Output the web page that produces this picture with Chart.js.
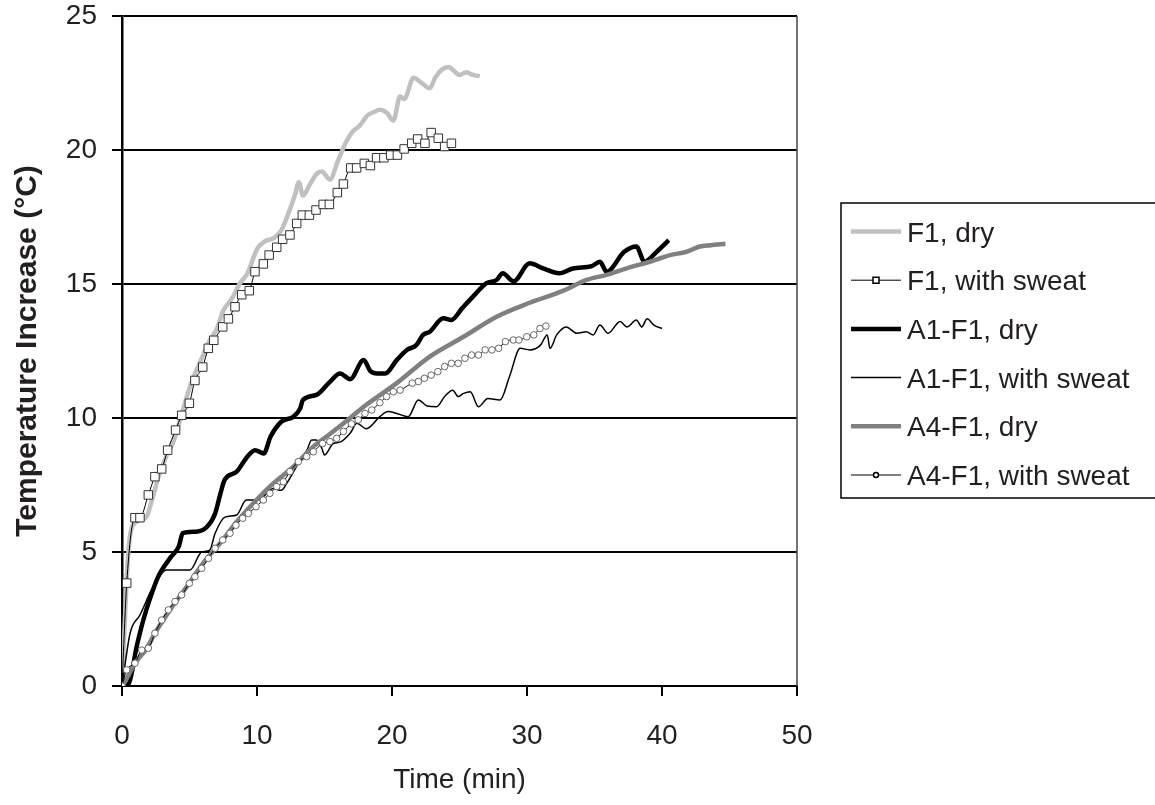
<!DOCTYPE html>
<html>
<head>
<meta charset="utf-8">
<script src="https://cdn.jsdelivr.net/npm/chart.js@4.4.1/dist/chart.umd.min.js"></script>
<style>
  html, body { margin: 0; padding: 0; background: #fff; }
  #wrap { width: 1155px; height: 805px; }
</style>
</head>
<body>
<div id="wrap"><canvas id="chart" width="1155" height="805"></canvas></div>
<script>
// Time (min) / temperature increase (°C)
const f1DryTime = [0, 0.5, 1.0, 1.8, 2.2, 2.7, 3.3, 3.8, 4.4, 4.8, 5.2, 5.8, 6.5, 7.0, 7.5, 8.2, 8.7, 9.3, 10.0, 10.6, 11.2, 11.8, 12.3, 12.8, 13.1, 13.4, 13.9, 14.4, 14.8, 15.4, 16.0, 16.6, 17.1, 17.6, 18.2, 18.6, 19.1, 19.6, 20.1, 20.6, 20.9, 21.6, 22.2, 22.8, 23.2, 23.7, 24.2, 24.6, 25.0, 25.5, 26.0, 26.5];
const f1DryTemp = [0, 5.2, 6.1, 6.3, 6.9, 7.8, 8.6, 9.1, 10.1, 10.8, 11.4, 12.1, 12.9, 13.3, 14.0, 14.5, 15.0, 15.4, 16.3, 16.6, 16.7, 17.0, 17.6, 18.3, 18.8, 18.3, 18.7, 19.1, 19.2, 18.9, 19.6, 20.3, 20.7, 20.9, 21.3, 21.4, 21.5, 21.4, 21.1, 22.0, 21.9, 22.7, 22.5, 22.3, 22.7, 23.0, 23.1, 22.95, 22.8, 22.9, 22.8, 22.75];

const f1SweatTime = [0, 0.35, 0.96, 1.33, 1.95, 2.44, 2.94, 3.38, 3.97, 4.42, 4.99, 5.4, 5.98, 6.39, 6.8, 7.46, 7.88, 8.37, 8.87, 9.43, 9.85, 10.47, 10.9, 11.46, 11.9, 12.44, 12.94, 13.36, 13.88, 14.37, 14.9, 15.36, 15.95, 16.4, 16.94, 17.38, 17.95, 18.4, 18.86, 19.4, 19.9, 20.4, 20.9, 21.46, 21.9, 22.44, 22.9, 23.43, 23.9, 24.4];
const f1SweatTemp = [0, 3.84, 6.28, 6.28, 7.13, 7.81, 8.1, 8.8, 9.55, 10.1, 10.55, 11.4, 11.9, 12.6, 12.9, 13.4, 13.7, 14.15, 14.6, 14.75, 15.46, 15.75, 16.08, 16.37, 16.67, 16.83, 17.26, 17.57, 17.57, 17.76, 17.97, 17.97, 18.41, 18.73, 19.33, 19.33, 19.5, 19.42, 19.71, 19.71, 19.81, 19.81, 20.04, 20.25, 20.41, 20.25, 20.65, 20.44, 20.13, 20.25];

const a1DryTime = [0, 0.5, 1.1, 1.6, 2.1, 2.7, 3.6, 4.2, 4.5, 5.5, 6.3, 6.9, 7.3, 7.6, 8.5, 9.2, 9.85, 10.5, 11.0, 11.8, 12.7, 13.2, 13.4, 14.4, 15.4, 16.15, 16.9, 17.9, 18.4, 18.9, 19.5, 20.35, 21.1, 21.8, 22.3, 22.8, 23.8, 24.4, 25.2, 26.0, 27.0, 27.75, 28.2, 29.0, 30.2, 31.2, 32.4, 33.4, 34.8, 35.4, 35.9, 37.2, 38.1, 38.7, 39.6, 40.5];
const a1DryTemp = [0, 0.1, 1.5, 2.5, 3.3, 4.1, 4.8, 5.2, 5.7, 5.76, 5.94, 6.44, 7.2, 7.69, 8.0, 8.5, 8.8, 8.68, 9.3, 9.86, 10.05, 10.36, 10.67, 10.86, 11.35, 11.66, 11.45, 12.16, 11.75, 11.66, 11.66, 12.16, 12.54, 12.72, 13.1, 13.22, 13.72, 13.66, 14.1, 14.53, 15.03, 15.15, 15.4, 15.1, 15.77, 15.58, 15.4, 15.58, 15.67, 15.83, 15.46, 16.2, 16.4, 15.83, 16.2, 16.64];

const a1SweatTime = [0, 0.6, 1.33, 2.3, 3.3, 5.04, 5.9, 6.5, 6.9, 7.63, 8.5, 9.2, 10.1, 11.2, 11.8, 12.2, 12.57, 13.2, 13.7, 14.05, 14.4, 14.8, 15.0, 15.65, 16.15, 16.9, 17.4, 18.1, 19.1, 19.7, 20.35, 21.2, 21.95, 22.6, 23.3, 23.9, 24.5, 24.9, 25.3, 25.8, 26.4, 27.1, 28.0, 28.7, 29.5, 30.2, 31.0, 31.5, 31.7, 32.2, 32.9, 33.7, 34.4, 34.9, 35.4, 36.0, 36.9, 37.4, 38.1, 38.5, 38.9, 39.4, 40.0];
const a1SweatTemp = [0, 1.97, 2.65, 3.7, 4.33, 4.33, 5.0, 5.07, 5.7, 6.3, 6.38, 6.94, 6.94, 7.37, 7.3, 7.56, 7.87, 8.43, 8.8, 9.18, 9.18, 8.87, 8.62, 9.05, 9.1, 9.43, 9.8, 9.6, 10.05, 10.24, 10.17, 10.05, 10.67, 10.45, 10.42, 10.8, 11.04, 10.8, 10.92, 10.98, 10.42, 10.73, 10.67, 11.54, 12.6, 12.54, 12.72, 13.1, 12.6, 13.1, 13.4, 13.16, 13.22, 13.1, 13.47, 13.16, 13.6, 13.4, 13.66, 13.4, 13.7, 13.47, 13.34];

const a4DryTime = [0, 0.15, 0.96, 1.83, 2.44, 3.56, 4.79, 6.0, 7.26, 8.5, 9.73, 11.2, 12.7, 14.17, 15.4, 16.9, 17.9, 20.35, 22.8, 25.3, 27.75, 30.2, 32.7, 34.4, 35.9, 37.6, 39.1, 40.6, 41.8, 42.8, 43.6, 44.7];
const a4DryTemp = [0, 0.1, 0.85, 1.4, 1.97, 2.84, 3.7, 4.58, 5.32, 6.13, 6.82, 7.56, 8.18, 8.93, 9.4, 10.0, 10.42, 11.3, 12.29, 13.03, 13.78, 14.3, 14.75, 15.15, 15.34, 15.62, 15.83, 16.08, 16.2, 16.4, 16.45, 16.5];

const a4SweatTime = [0, 0.35, 0.96, 1.46, 1.95, 2.44, 2.94, 3.43, 3.93, 4.42, 4.99, 5.4, 5.9, 6.4, 6.9, 7.46, 8.0, 8.44, 8.94, 9.36, 9.93, 10.47, 10.96, 11.46, 11.95, 12.44, 13.06, 13.68, 14.17, 14.86, 15.4, 15.9, 16.4, 17.0, 17.5, 18.0, 18.5, 19.1, 19.6, 20.1, 20.6, 21.5, 21.95, 22.4, 22.9, 23.4, 23.9, 24.4, 24.9, 25.4, 25.9, 26.4, 26.9, 27.4, 27.9, 28.4, 29.0, 29.4, 29.98, 30.5, 30.96, 31.4];
const a4SweatTemp = [0, 0.6, 0.85, 1.34, 1.41, 1.97, 2.46, 2.84, 3.15, 3.4, 3.83, 4.08, 4.39, 4.76, 5.14, 5.45, 5.7, 6.0, 6.26, 6.44, 6.69, 6.94, 7.19, 7.44, 7.62, 8.0, 8.37, 8.56, 8.74, 9.05, 9.12, 9.24, 9.5, 9.78, 9.93, 10.17, 10.3, 10.57, 10.8, 10.98, 11.04, 11.3, 11.36, 11.48, 11.6, 11.73, 11.92, 12.04, 12.04, 12.23, 12.35, 12.35, 12.54, 12.54, 12.6, 12.85, 12.91, 12.91, 13.03, 13.1, 13.34, 13.43];

const seriesNames = ["F1, dry", "F1, with sweat", "A1-F1, dry", "A1-F1, with sweat", "A4-F1, dry", "A4-F1, with sweat"];
const xTicks = [0, 10, 20, 30, 40, 50];
const yTicks = [0, 5, 10, 15, 20, 25];

const FONT = "'Liberation Sans', Arial, sans-serif";
const TEXT = "#231f20";

function pts(xs, ys) {
  return xs.map((x, i) => ({ x: x, y: ys[i] }));
}

const styles = [
  { color: "#c0c0c0", width: 4.5 },
  { color: "#000000", width: 1, marker: "rect" },
  { color: "#000000", width: 4.5 },
  { color: "#000000", width: 1.5 },
  { color: "#808080", width: 4.5 },
  { color: "#000000", width: 1, marker: "circle" },
];

const series = [
  pts(f1DryTime, f1DryTemp),
  pts(f1SweatTime, f1SweatTemp),
  pts(a1DryTime, a1DryTemp),
  pts(a1SweatTime, a1SweatTemp),
  pts(a4DryTime, a4DryTemp),
  pts(a4SweatTime, a4SweatTemp),
];

const datasets = series.map((data, i) => {
  const s = styles[i];
  return {
    label: seriesNames[i],
    data: data,
    borderColor: s.color,
    borderWidth: s.width,
    cubicInterpolationMode: "monotone",
    pointStyle: s.marker || "circle",
    pointRadius: s.marker === "rect" ? 6 : s.marker === "circle" ? 3.3 : 0,
    pointBorderColor: s.marker === "rect" ? "#333" : "#666",
    pointBorderWidth: 1,
    pointBackgroundColor: "#ffffff",
    order: 6 - i,
  };
});

// right-hand frame of the plot area
const frame = {
  id: "frame",
  afterDatasetsDraw(chart) {
    const { ctx, chartArea: a } = chart;
    ctx.save();
    ctx.strokeStyle = "#444";
    ctx.lineWidth = 1.5;
    ctx.beginPath();
    ctx.moveTo(a.right, a.top);
    ctx.lineTo(a.right, a.bottom);
    ctx.stroke();
    ctx.restore();
  },
};

// boxed legend to the right
const boxLegend = {
  id: "boxLegend",
  afterDraw(chart) {
    const ctx = chart.ctx;
    ctx.save();
    ctx.strokeStyle = "#000";
    ctx.lineWidth = 1.5;
    ctx.strokeRect(841, 203, 330, 295);
    ctx.font = "28px " + FONT;
    ctx.fillStyle = TEXT;
    ctx.textBaseline = "alphabetic";
    seriesNames.forEach((name, i) => {
      const s = styles[i];
      const y = 231.5 + i * 48.7;
      ctx.strokeStyle = s.color;
      ctx.lineWidth = s.width;
      ctx.beginPath();
      ctx.moveTo(851, y);
      ctx.lineTo(901, y);
      ctx.stroke();
      if (s.marker) {
        ctx.lineWidth = 1.5;
        ctx.fillStyle = "#fff";
        ctx.beginPath();
        if (s.marker === "rect") ctx.rect(873, y - 3, 6, 6);
        else ctx.arc(876, y, 2.5, 0, Math.PI * 2);
        ctx.fill();
        ctx.stroke();
        ctx.fillStyle = TEXT;
      }
      ctx.fillText(name, 907, y + 10);
    });
    ctx.restore();
  },
};

new Chart(document.getElementById("chart"), {
  type: "line",
  data: { datasets: datasets },
  plugins: [frame, boxLegend],
  options: {
    responsive: false,
    animation: false,
    layout: { padding: { top: 16, right: 358, left: 0, bottom: 0 } },
    plugins: { legend: { display: false }, tooltip: { enabled: false } },
    scales: {
      x: {
        type: "linear",
        min: 0,
        max: 50,
        afterBuildTicks: (s) => { s.ticks = xTicks.map((v) => ({ value: v })); },
        afterFit: (s) => { s.height = 119; s.paddingLeft = 0; s.paddingRight = 0; },
        grid: { drawOnChartArea: false, drawTicks: true, tickLength: 10, color: "#000", lineWidth: 2 },
        border: { display: true, color: "#000", width: 2 },
        ticks: { color: TEXT, font: { family: FONT, size: 28 }, padding: 23, maxRotation: 0 },
        title: { display: true, text: "Time (min)", color: TEXT, font: { family: FONT, size: 28 }, padding: { top: 0, bottom: 8 } },
      },
      y: {
        type: "linear",
        min: 0,
        max: 25,
        afterBuildTicks: (s) => { s.ticks = yTicks.map((v) => ({ value: v })); },
        afterFit: (s) => { s.width = 122; s.paddingTop = 0; s.paddingBottom = 0; },
        grid: { drawOnChartArea: true, drawTicks: true, tickLength: 10, color: "#000", lineWidth: 2 },
        border: { display: true, color: "#000", width: 2.5 },
        ticks: { color: TEXT, font: { family: FONT, size: 28 }, padding: 15 },
        title: { display: true, text: "Temperature Increase (°C)", color: TEXT, font: { family: FONT, size: 30, weight: "bold" }, padding: { top: 10, bottom: 0 } },
      },
    },
  },
});
</script>
</body>
</html>
